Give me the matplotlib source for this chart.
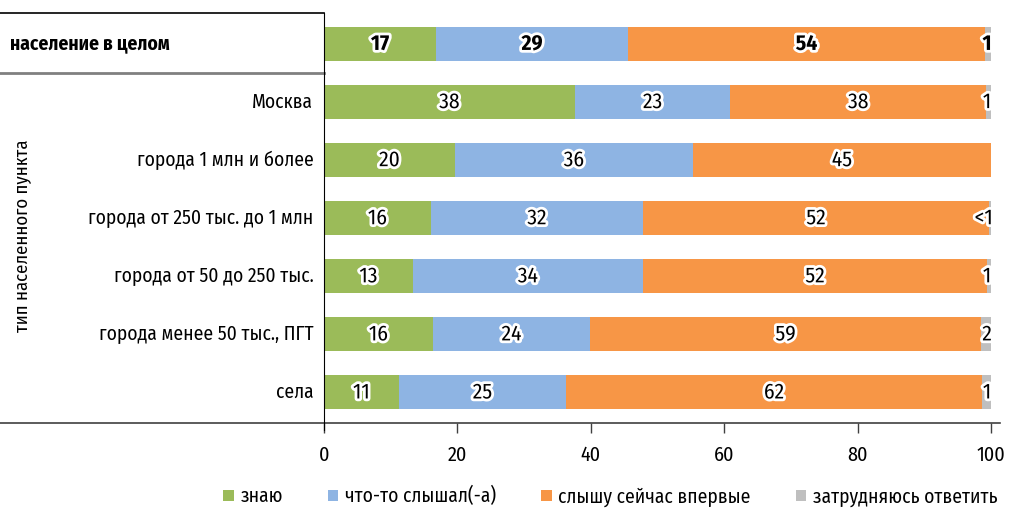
import numpy as np
import matplotlib.pyplot as plt
import matplotlib.patheffects as pe
from matplotlib.patches import Patch

plt.rcParams['font.family'] = ['Fira Sans Condensed', 'DejaVu Sans']

categories = ['население в целом', 'Москва', 'города 1 млн и более',
              'города от 250 тыс. до 1 млн', 'города от 50 до 250 тыс.',
              'города менее 50 тыс., ПГТ', 'села']
series_names = ['знаю', 'что-то слышал(-а)', 'слышу сейчас впервые', 'затрудняюсь ответить']

know = [16.8, 37.6, 19.6, 16.0, 13.3, 16.3, 11.2]
heard = [28.8, 23.3, 35.7, 31.8, 34.5, 23.6, 25.1]
first_time = [53.5, 38.4, 44.7, 51.9, 51.6, 58.6, 62.3]
hard = [0.9, 0.7, 0.0, 0.3, 0.6, 1.5, 1.4]

know_lbl = ['17', '38', '20', '16', '13', '16', '11']
heard_lbl = ['29', '23', '36', '32', '34', '24', '25']
first_lbl = ['54', '38', '45', '52', '52', '59', '62']
hard_lbl = ['1', '1', '', '<1', '1', '2', '1']

colors = ['#9BBB59', '#8EB4E3', '#F79646', '#BFBFBF']

fig = plt.figure(figsize=(10.09, 5.09), dpi=100)
ax = fig.add_axes([324 / 1009, 86 / 509, 667 / 1009, 410 / 509])

y = np.arange(len(categories))
left = np.zeros(len(categories))
stroke = [pe.withStroke(linewidth=4, foreground='white')]
for vals, lbls, col in zip([know, heard, first_time, hard],
                           [know_lbl, heard_lbl, first_lbl, hard_lbl], colors):
    vals = np.array(vals)
    ax.barh(y, vals, left=left, height=0.585, color=col)
    for i, (v, l) in enumerate(zip(vals, lbls)):
        if not l:
            continue
        cx = left[i] + v / 2
        if col == colors[3]:
            cx = 98.9 if l == '<1' else 99.4
        ax.text(cx, y[i], l, ha='center', va='center', fontsize=15.5,
                fontweight='bold' if i == 0 else 'normal', path_effects=stroke)
    left += vals

ax.set_xlim(0, 100)
ax.set_ylim(6.53, -0.53)
ax.set_xticks([0, 20, 40, 60, 80, 100])
ax.tick_params(axis='x', length=7, width=1, labelsize=14.5, pad=9, color='#404040')
ax.set_yticks([])
for s in ['top', 'right', 'bottom']:
    ax.spines[s].set_visible(False)
ax.spines['left'].set_bounds(6.65, -0.53)
ax.spines['left'].set_color('black')

# category labels
ax.text(-47.1, 0, categories[0], ha='left', va='center', fontsize=14, fontweight='bold')
for i in range(1, len(categories)):
    ax.text(-1.6, i, categories[i], ha='right', va='center', fontsize=14)
ax.text(-45.2, 3.3, 'тип населенного пункта', rotation=90, ha='center', va='center',
        fontsize=13.5)

# frame lines
tr = ax.get_yaxis_transform()
ax.plot([-324 / 667, 0], [1, 1], transform=ax.transAxes, color='black', lw=1.2, clip_on=False)
ax.plot([-324 / 667, 0], [0.5, 0.5], transform=tr, color='#808080', lw=2, clip_on=False)
ax.plot([-324 / 667, 676 / 667], [0, 0], transform=ax.transAxes, color='#404040', lw=1.2,
        clip_on=False)

handles = [Patch(facecolor=c, edgecolor='none') for c in colors]
fig.legend(handles, series_names, loc='lower right', bbox_to_anchor=(1.006, -0.03),
           ncol=4, frameon=False, fontsize=14, handlelength=0.55, handleheight=0.55,
           handletextpad=0.35, columnspacing=2.3)

fig.savefig('out.png', dpi=100)
